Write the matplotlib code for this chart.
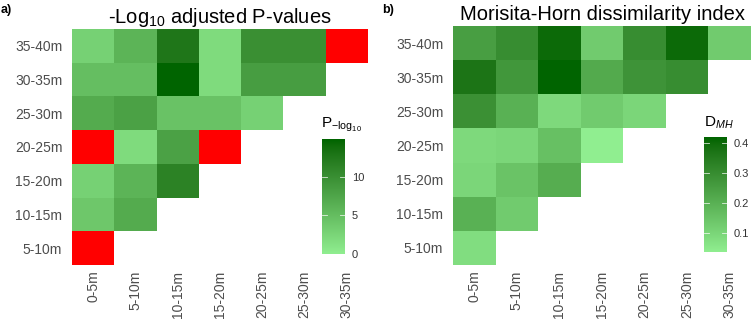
import numpy as np
import matplotlib
matplotlib.use("Agg")
import matplotlib.pyplot as plt
from matplotlib.colors import ListedColormap, Normalize

plt.rcParams['font.family'] = ['Liberation Sans', 'DejaVu Sans']
plt.rcParams['mathtext.fontset'] = 'custom'
plt.rcParams['mathtext.rm'] = 'Liberation Sans'
plt.rcParams['mathtext.it'] = 'Liberation Sans:italic'

x_labels = ['0-5m', '5-10m', '10-15m', '15-20m', '20-25m', '25-30m', '30-35m']
y_labels = ['5-10m', '10-15m', '15-20m', '20-25m', '25-30m', '30-35m', '35-40m']

nan = float('nan')
# rows bottom (5-10m) to top (35-40m); nan = red cell
pval_rows = [
    [nan],
    [4.0, 7.0],
    [3.0, 6.0, 11.5],
    [nan, 2.0, 8.0, nan],
    [7.0, 8.0, 4.5, 4.5, 3.0],
    [5.0, 5.0, 14.9, 2.0, 8.5, 8.5],
    [3.0, 6.0, 12.8, 2.0, 10.0, 10.0, nan],
]
dmh_rows = [
    [0.08],
    [0.20, 0.13],
    [0.10, 0.15, 0.21],
    [0.09, 0.10, 0.16, 0.036],
    [0.29, 0.20, 0.09, 0.13, 0.10],
    [0.37, 0.27, 0.419, 0.22, 0.28, 0.30],
    [0.25, 0.30, 0.40, 0.13, 0.30, 0.40, 0.13],
]
pval_ticks = [0, 5, 10]
dmh_ticks = [0.1, 0.2, 0.3, 0.4]


def srgb_to_lab(rgb):
    c = np.asarray(rgb, float) / 255.0
    c = np.where(c > 0.04045, ((c + 0.055) / 1.055) ** 2.4, c / 12.92)
    M = np.array([[0.4124, 0.3576, 0.1805], [0.2126, 0.7152, 0.0722], [0.0193, 0.1192, 0.9505]])
    xyz = M @ c / np.array([0.95047, 1.0, 1.08883])
    f = np.where(xyz > 0.008856, np.cbrt(xyz), 7.787 * xyz + 16 / 116)
    return np.array([116 * f[1] - 16, 500 * (f[0] - f[1]), 200 * (f[1] - f[2])])


def lab_to_srgb(lab):
    L, a, b = lab
    fy = (L + 16) / 116
    fx = fy + a / 500
    fz = fy - b / 200
    f = np.array([fx, fy, fz])
    xyz = np.where(f ** 3 > 0.008856, f ** 3, (f - 16 / 116) / 7.787) * np.array([0.95047, 1.0, 1.08883])
    Minv = np.array([[3.2406, -1.5372, -0.4986], [-0.9689, 1.8758, 0.0415], [0.0557, -0.2040, 1.0570]])
    c = Minv @ xyz
    c = np.where(c > 0.0031308, 1.055 * np.clip(c, 0, None) ** (1 / 2.4) - 0.055, 12.92 * c)
    return np.clip(c, 0, 1)


lo = srgb_to_lab([144, 238, 144])
hi = srgb_to_lab([0, 100, 0])
cmap = ListedColormap([lab_to_srgb(lo + t * (hi - lo)) for t in np.linspace(0, 1, 256)])

fig = plt.figure(figsize=(7.51, 3.20), dpi=100)
W, H = 751.0, 320.0


def px_axes(x0, y0, x1, y1):
    return fig.add_axes([x0 / W, 1 - y1 / H, (x1 - x0) / W, (y1 - y0) / H])


def panel(ax_box, cax_box, rows, vmin, vmax, ticks, title, cb_title, cb_title_xy, label, label_x):
    ax = px_axes(*ax_box)
    n = len(x_labels)
    vals = np.full((n, n), np.nan)
    red = np.zeros((n, n))
    for i, row in enumerate(rows):
        for j, v in enumerate(row):
            if np.isnan(v):
                red[i, j] = 1
            else:
                vals[i, j] = v
    norm = Normalize(vmin, vmax)
    xe = np.arange(n + 1) - 0.5
    ax.pcolormesh(xe, xe, np.ma.masked_where(red == 0, red), cmap=ListedColormap(['#FF0000']), vmin=0, vmax=1)
    ax.pcolormesh(xe, xe, np.ma.masked_invalid(vals), cmap=cmap, norm=norm)
    ax.set_xlim(-0.5, n - 0.5)
    ax.set_ylim(-0.5, n - 0.5)
    ax.set_xticks(range(n))
    ax.set_xticklabels(x_labels, rotation=90, fontsize=10, color='#4D4D4D')
    ax.set_yticks(range(n))
    ax.set_yticklabels(y_labels, fontsize=10, color='#4D4D4D')
    ax.tick_params(axis='x', length=0, pad=4)
    ax.tick_params(axis='y', length=0, pad=7)
    for s in ax.spines.values():
        s.set_visible(False)
    ax.set_title(title, fontsize=14.5, pad=4)

    cax = px_axes(*cax_box)
    grad = np.linspace(vmin, vmax, 256).reshape(-1, 1)
    cax.imshow(grad, aspect='auto', origin='lower', cmap=cmap, norm=norm,
               extent=[0, 1, vmin, vmax])
    cax.set_xlim(0, 1)
    cax.set_ylim(vmin, vmax)
    cax.set_xticks([])
    cax.yaxis.tick_right()
    cax.set_yticks(ticks)
    cax.set_yticklabels([str(t) for t in ticks], fontsize=8, color='#333333')
    cax.tick_params(length=0, pad=5)
    for t in ticks:
        cax.plot([0, 0.2], [t, t], color='white', lw=0.6, alpha=0.8)
        cax.plot([0.8, 1], [t, t], color='white', lw=0.6, alpha=0.8)
    for s in cax.spines.values():
        s.set_visible(False)
    fig.text(cb_title_xy[0] / W, 1 - cb_title_xy[1] / H, cb_title, fontsize=11, ha='left', va='center')
    fig.text(label_x / W, 1 - 10 / H, label, fontsize=9, fontweight='bold', ha='left', va='center')


panel((72, 29, 368, 265), (322, 139, 345, 254), pval_rows, 0, 14.9, pval_ticks,
      r'-Log$_{10}$ adjusted P-values', r'P$_{-\mathrm{log}_{10}}$', (321, 125), 'a)', 1)
panel((453, 26, 751, 265), (704, 137, 727, 252), dmh_rows, 0.036, 0.419, dmh_ticks,
      'Morisita-Horn dissimilarity index', r'D$_{MH}$', (704, 123), 'b)', 382)

fig.savefig('out.png', dpi=100)
